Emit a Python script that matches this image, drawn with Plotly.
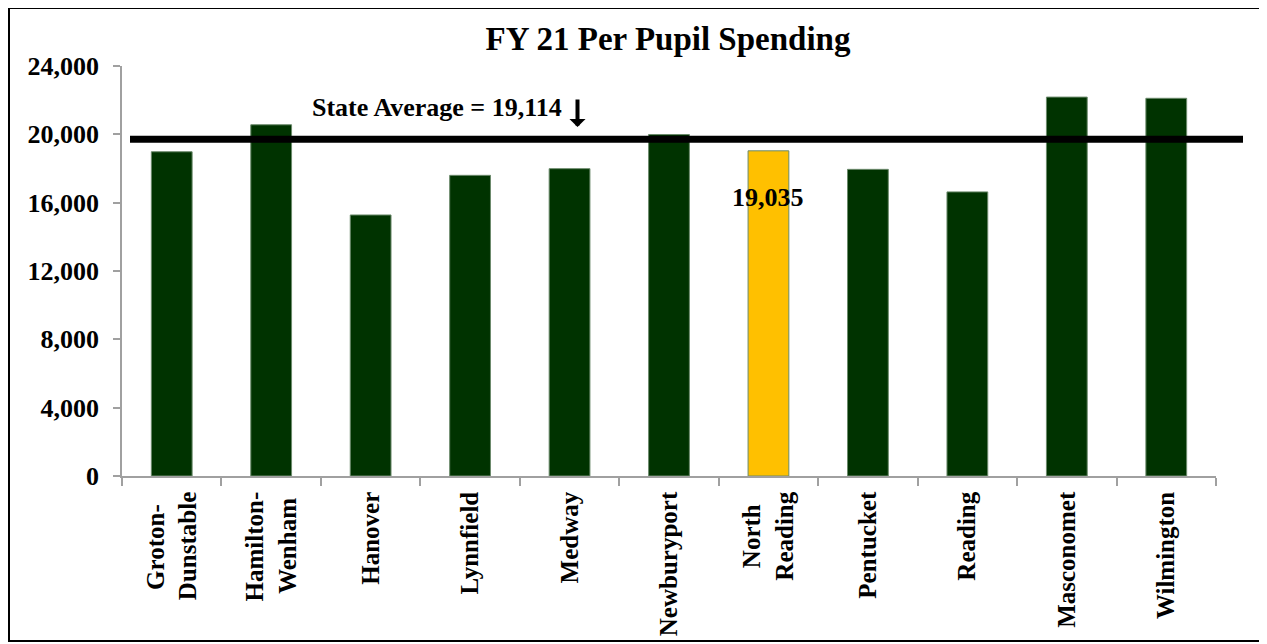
import plotly.graph_objects as go

# ---- data ----
districts = ["Groton-<br>Dunstable", "Hamilton-<br>Wenham", "Hanover", "Lynnfield", "Medway",
             "Newburyport", "North<br>Reading", "Pentucket", "Reading", "Masconomet", "Wilmington"]
spending = [18980, 20560, 15280, 17600, 17990, 19990, 19035, 17950, 16630, 22180, 22110]
highlight = "North<br>Reading"
state_average = 19114
avg_line_level = 19715
y_ticks = [0, 4000, 8000, 12000, 16000, 20000, 24000]

GREEN = "#003300"
YELLOW = "#FFC000"
FONT = "Liberation Serif"
AXIS_GRAY = "#a0a0a0"

# page body has an 8px margin; work in reference-window pixels and convert
OFF = 8
W, H = 1267 - OFF, 644 - OFF
PLOT_L, PLOT_R, PLOT_T, PLOT_B = 122, 1216, 66, 476   # reference-window pixels
L, T = PLOT_L - OFF, PLOT_T - OFF
R, B = W - (PLOT_R - OFF), H - (PLOT_B - OFF)
PW, PH = PLOT_R - PLOT_L, PLOT_B - PLOT_T

def px_x(p):
    return (p - PLOT_L) / PW

def px_y(p):
    return (PLOT_B - p) / PH

# approximate Times-Bold advance widths (em) to centre multi-line rotated labels
_WIDTHS = {"G": .778, "r": .444, "o": .5, "t": .333, "n": .556, "-": .333, "D": .722,
           "u": .556, "s": .389, "a": .5, "b": .556, "l": .278, "e": .444, "H": .778,
           "m": .833, "i": .278, "W": 1.0, "h": .556, "N": .722, "R": .722, "d": .556,
           "g": .5}

def _w(s):
    return sum(_WIDTHS.get(c, .5) for c in s)

def centre_lines(label):
    lines = label.split("<br>")
    if len(lines) == 1:
        return label
    widest = max(_w(s) for s in lines)
    out = []
    for s in lines:
        pad = round((widest - _w(s)) / 2 / 0.25)
        out.append(s + "\u00a0" * pad)
    return "<br>".join(out)

tick_text = [centre_lines(d) for d in districts]

colors = [YELLOW if d == highlight else GREEN for d in districts]
BOLD = dict(family=FONT, color="black", weight="bold")

fig = go.Figure()
fig.add_trace(go.Bar(
    x=districts, y=spending,
    marker=dict(color=colors, line=dict(color="#6b8a6b", width=1)),
    width=0.41,
    hoverinfo="y",
))

fig.update_layout(
    width=W, height=H,
    margin=dict(l=L, r=R, t=T, b=B, autoexpand=False),
    paper_bgcolor="white", plot_bgcolor="white",
    showlegend=False,
    font=dict(family=FONT, color="black"),
    title=dict(text="FY 21 Per Pupil Spending", x=px_x(668), xref="paper",
               y=1 - (38 - OFF) / H, yref="container", xanchor="center", yanchor="middle",
               font=dict(**BOLD, size=33)),
    bargap=0.6,
)

fig.update_yaxes(
    range=[0, 24000], tickvals=y_ticks, tickformat=",d",
    showgrid=False, zeroline=False,
    showline=True, linecolor=AXIS_GRAY, linewidth=1.5,
    ticks="outside", ticklen=7, tickcolor=AXIS_GRAY, tickwidth=1.5,
    tickfont=dict(**BOLD, size=26),
    ticklabelstandoff=9,
)
fig.update_xaxes(
    type="category", tickangle=-90, tickson="boundaries",
    tickvals=districts, ticktext=tick_text,
    showgrid=False, showline=True, linecolor=AXIS_GRAY, linewidth=1.5,
    ticks="outside", ticklen=8, tickcolor=AXIS_GRAY, tickwidth=1.5,
    tickfont=dict(**BOLD, size=25),
    ticklabelstandoff=4,
)

# state average line
fig.add_shape(type="line", xref="paper", yref="y",
              x0=px_x(130), x1=px_x(1243), y0=avg_line_level, y1=avg_line_level,
              line=dict(color="black", width=7))

# outer border
fig.add_shape(type="rect", xref="paper", yref="paper",
              x0=px_x(9), x1=px_x(1265), y0=px_y(641), y1=px_y(8),
              line=dict(color="black", width=2), fillcolor="rgba(0,0,0,0)")

# state average label and arrow
fig.add_annotation(xref="paper", yref="paper", x=px_x(437), y=px_y(107),
                   text=f"State Average = {state_average:,}", showarrow=False,
                   xanchor="center", yanchor="middle",
                   font=dict(**BOLD, size=26))
fig.add_annotation(xref="paper", yref="paper", x=px_x(577.5), y=px_y(127),
                   ax=0, ay=-29, text="", showarrow=True,
                   arrowhead=1, arrowwidth=4, arrowsize=0.67, arrowcolor="black")

# highlighted value label
hi_idx = districts.index(highlight)
fig.add_annotation(x=highlight, y=spending[hi_idx], yshift=-47,
                   text=f"{spending[hi_idx]:,}", showarrow=False,
                   xanchor="center", yanchor="middle",
                   font=dict(**BOLD, size=26))

fig.write_html("out.html")
